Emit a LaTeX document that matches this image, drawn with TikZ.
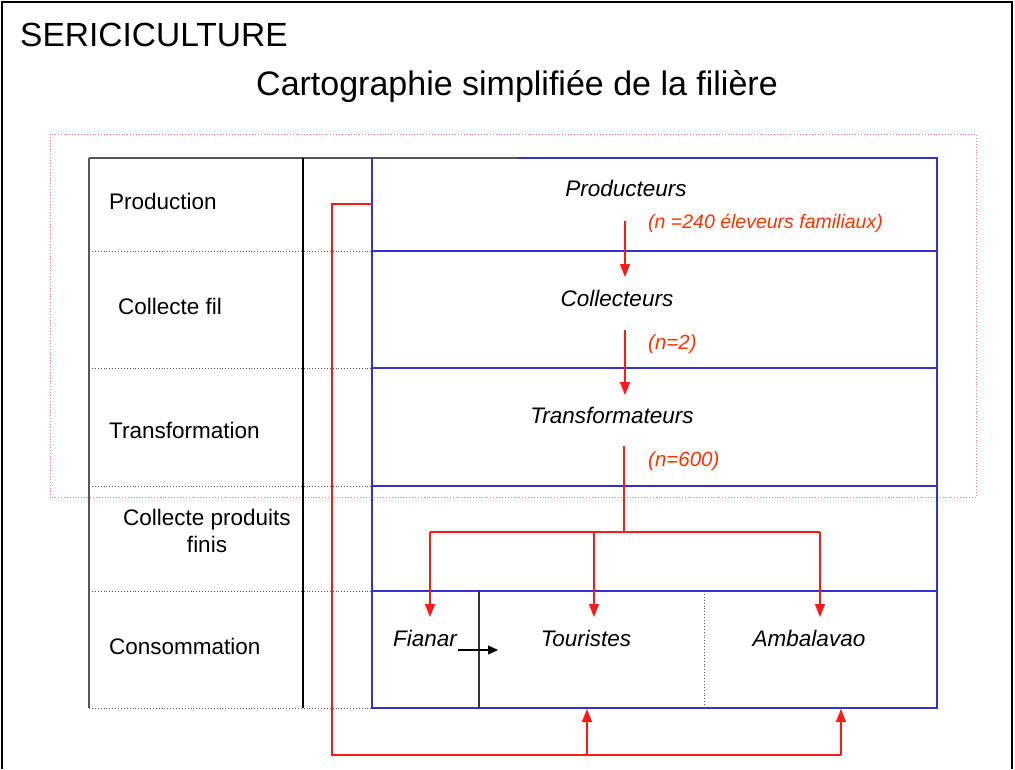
\documentclass[tikz,border=0pt]{standalone}
\usepackage{fontspec}
\setmainfont{Liberation Sans}
\usetikzlibrary{arrows.meta}
\definecolor{rline}{HTML}{FF1A1A}
\definecolor{rtext}{HTML}{FF3300}
\definecolor{bline}{HTML}{3333CC}
\definecolor{gline}{HTML}{555555}
\definecolor{rdot}{HTML}{FF7777}
\begin{document}
\begin{tikzpicture}[x=1pt,y=-1pt,
  title/.style={anchor=base west,inner sep=0pt,font=\fontsize{33.5}{38}\selectfont},
  subtitle/.style={anchor=base,inner sep=0pt,font=\fontsize{34}{38}\selectfont},
  lbl/.style={anchor=base west,inner sep=0pt,font=\fontsize{22.5}{26}\selectfont},
  actor/.style={anchor=base,inner sep=0pt,font=\fontsize{22.5}{26}\selectfont\itshape},
  count/.style={anchor=base west,inner sep=0pt,text=rtext,font=\fontsize{20.5}{24}\selectfont\itshape},
  flow/.style={draw=rline,line width=1.4pt,-{Triangle[width=10pt,length=13pt]}},
  flowline/.style={draw=rline,line width=1.4pt},
  blueline/.style={draw=bline,line width=1.4pt},
  rowsep/.style={draw=gline,line width=0.9pt,dotted},
]
\useasboundingbox (0,0) rectangle (1015,769);

% outer frame
\draw[line width=1.5pt] (2,769) -- (2,2) -- (1012,2) -- (1012,769);

% titles
\node[title] (t1) at (20,46) {SERICICULTURE};
\node[subtitle] (t2) at (517,95) {Cartographie simplifiée de la filière};

% red dotted frame
\draw[rdot,line width=0.9pt,dotted] (50,134) rectangle (976,497);

% left table part
\draw[gline,line width=2pt] (89,158) -- (89,708);
\draw[gline,line width=1.2pt] (89,158) -- (518,158);
\draw[black,line width=1.2pt] (303,158) -- (303,708);
\foreach \yy in {251,368,486,591,708} \draw[rowsep] (89,\yy) -- (372,\yy);

% blue box
\draw[blueline] (372,158) rectangle (937,708);
\draw[gline,line width=1.2pt] (372,158) -- (518,158);
\foreach \yy in {251,368,486,591} \draw[blueline,line width=2.2pt] (372,\yy) -- (937,\yy);
\draw[black!80,line width=1.2pt] (479,591) -- (479,708);
\draw[gline,line width=0.9pt,dotted] (704,591) -- (704,708);

% left labels
\node[lbl] (production) at (109,209) {Production};
\node[lbl] (collfil) at (118,314) {Collecte fil};
\node[lbl] (transfo) at (109,438) {Transformation};
\node[anchor=base,inner sep=0pt,font=\fontsize{22.5}{26}\selectfont] (collpf1) at (207,525) {Collecte produits};
\node[anchor=base,inner sep=0pt,font=\fontsize{22.5}{26}\selectfont] (collpf2) at (207,552) {finis};
\node[lbl] (conso) at (109,654) {Consommation};

% actors
\node[actor] (prod) at (626,196) {Producteurs};
\node[count,font=\fontsize{19.5}{24}\selectfont\itshape] (nprod) at (648,228) {(n =240 éleveurs familiaux)};
\node[actor] (coll) at (617,306) {Collecteurs};
\node[count] (ncoll) at (648,349) {(n=2)};
\node[actor] (trans) at (612,423) {Transformateurs};
\node[count] (ntrans) at (648,466) {(n=600)};
\node[actor] (fianar) at (425,646) {Fianar};
\node[actor] (tour) at (586,646) {Touristes};
\node[actor] (amba) at (809,646) {Ambalavao};

% coordinates
\coordinate (a1s) at (625,221);
\coordinate (a1e) at (625,277);
\coordinate (a2s) at (625,330);
\coordinate (a2e) at (625,395);
\coordinate (a3s) at (624,446);
\coordinate (br) at (624,532);
\coordinate (brL) at (430,532);
\coordinate (brM) at (594,532);
\coordinate (brR) at (820,532);
\coordinate (fE) at (430,617);
\coordinate (tE) at (594,617);
\coordinate (aE) at (820,617);
\coordinate (pOut) at (372,204);
\coordinate (c1) at (332,204);
\coordinate (c2) at (332,755);
\coordinate (c3) at (587,755);
\coordinate (c4) at (841,755);
\coordinate (tUp) at (587,709);
\coordinate (aUp) at (841,709);
\coordinate (bs) at (458,650);
\coordinate (be) at (498,650);

% flows
\draw[flow] (a1s) -- (a1e);
\draw[flow] (a2s) -- (a2e);
\draw[flowline] (a3s) -- (br);
\draw[flowline] (brL) -- (brR);
\draw[flow] (brL) -- (fE);
\draw[flow] (brM) -- (tE);
\draw[flow] (brR) -- (aE);
\draw[flowline] (pOut) -- (c1) -- (c2) -- (c4);
\draw[flow] (c4) -- (aUp);
\draw[flow] (c3) -- (tUp);
\draw[line width=1.2pt,-{Triangle[width=9pt,length=10pt]}] (bs) -- (be);
\end{tikzpicture}
\end{document}
